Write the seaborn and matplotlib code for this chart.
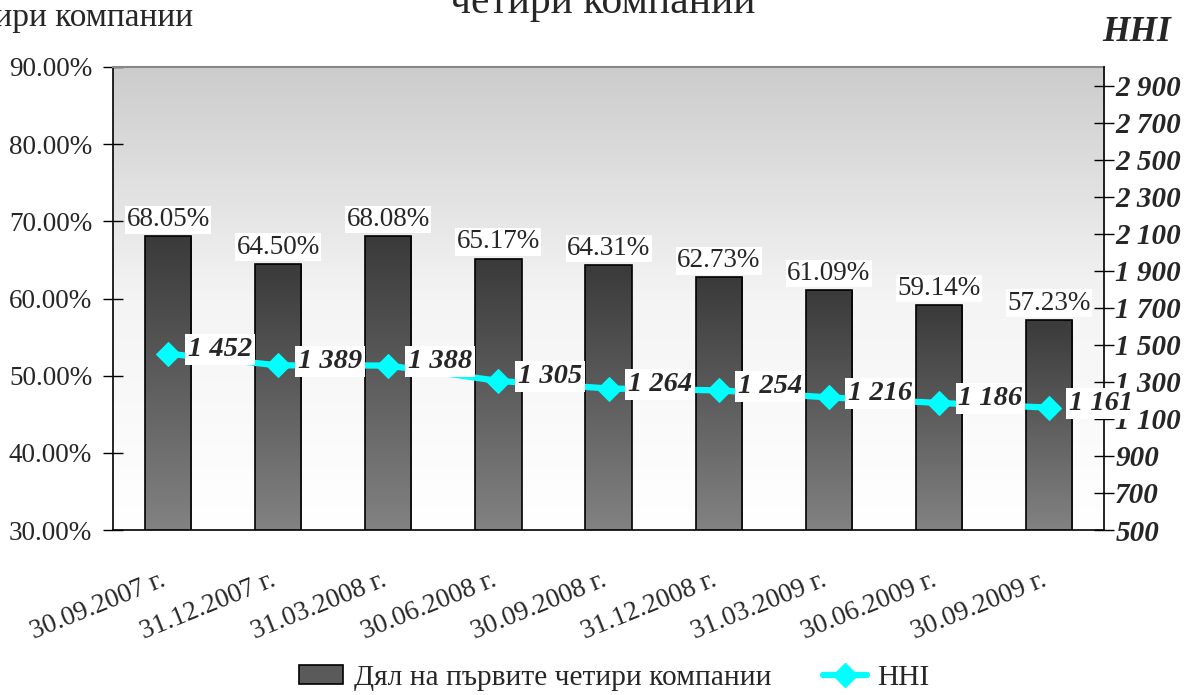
import numpy as np
import pandas as pd
import matplotlib
matplotlib.use("Agg")
import matplotlib.pyplot as plt
import matplotlib.transforms as mtransforms
import seaborn as sns
from matplotlib.patches import Patch
from matplotlib.lines import Line2D
from matplotlib.ticker import FuncFormatter, FixedLocator

dates = ["30.09.2007 г.", "31.12.2007 г.", "31.03.2008 г.", "30.06.2008 г.",
         "30.09.2008 г.", "31.12.2008 г.", "31.03.2009 г.", "30.06.2009 г.",
         "30.09.2009 г."]
share = [68.05, 64.50, 68.08, 65.17, 64.31, 62.73, 61.09, 59.14, 57.23]
hhi = [1452, 1389, 1388, 1305, 1264, 1254, 1216, 1186, 1161]
share_name = "Дял на първите четири компании"
hhi_name = "HHI"

sns.set_style("white")
plt.rcParams['font.family'] = ['Liberation Serif', 'DejaVu Serif']

df = pd.DataFrame({"date": dates, "share": share, "hhi": hhi})

fig = plt.figure(figsize=(11.86, 6.95), dpi=100)
ax = fig.add_axes([0.0953, 0.2374, 0.931 - 0.0953, 0.9036 - 0.2374])

# background gradient
grad = np.linspace(0, 1, 256).reshape(-1, 1)
bg_cmap = matplotlib.colors.LinearSegmentedColormap.from_list("bg", ["#ffffff", "#f4f4f4", "#cccccc"])
ax.imshow(grad, extent=[0, 1, 0, 1], transform=ax.transAxes, cmap=bg_cmap,
          aspect="auto", origin="lower", zorder=0)

sns.barplot(data=df, x="date", y="share", ax=ax, width=0.42, color="#555555",
            edgecolor="black", linewidth=1.2, zorder=2)
ax.set_ylim(30, 90)
ax.set_xlim(-0.5, len(dates) - 0.5)

bar_cmap = matplotlib.colors.LinearSegmentedColormap.from_list("bar", ["#828282", "#3a3a3a"])
for p in ax.patches:
    x0 = p.get_x()
    w, h = p.get_width(), p.get_height()
    top = p.get_y() + h
    im = ax.imshow(grad, extent=[x0, x0 + w, 30, top], cmap=bar_cmap,
                   aspect="auto", origin="lower", zorder=2)
    im.set_clip_path(p)
    p.set_facecolor("none")
    p.set_zorder(3)

for i, v in enumerate(share):
    ax.annotate(f"{v:.2f}%", (i, v), xytext=(0, 3), textcoords="offset points",
                ha="center", va="bottom", fontsize=19.5, zorder=5,
                bbox=dict(boxstyle="square,pad=0.05", fc="white", ec="none"))

ax.yaxis.set_major_locator(FixedLocator(np.arange(30, 91, 10)))
ax.yaxis.set_major_formatter(FuncFormatter(lambda v, p: f"{v:.2f}%"))
ax.set_xticks(np.arange(-0.5, len(dates), 1.0), minor=False)
ax.set_xticklabels([])
ax.set_xticks(np.arange(len(dates)), minor=True)
ax.set_xticklabels(dates, minor=True, rotation=22, ha="right",
                   rotation_mode="anchor", fontsize=19.5)
ax.tick_params(axis="x", which="minor", length=0, pad=27)
shift = mtransforms.ScaledTranslation(-8 / 100, 0, fig.dpi_scale_trans)
for lab in ax.xaxis.get_minorticklabels():
    lab.set_transform(lab.get_transform() + shift)
ax.tick_params(axis="x", which="major", direction="inout", length=16, width=1, color="black")
ax.tick_params(axis="y", direction="inout", length=14, width=1, color="black",
               labelsize=19.5, pad=8)
ax.set_xlabel("")
ax.set_ylabel("")
for s in ["left", "bottom"]:
    ax.spines[s].set_color("black")
    ax.spines[s].set_linewidth(1.2)
ax.spines["top"].set_color("#888888")
ax.spines["top"].set_linewidth(1.5)
ax.spines["right"].set_visible(False)

ax2 = ax.twinx()
sns.lineplot(data=df, x="date", y="hhi", ax=ax2, color="#00ffff", linewidth=4.5,
             marker="D", markersize=12, markeredgecolor="#00ffff", zorder=4)
ax2.set_ylim(500, 3000)
ax2.yaxis.set_major_locator(FixedLocator(np.arange(500, 3000, 200)))
ax2.yaxis.set_major_formatter(FuncFormatter(lambda v, p: f"{int(v):,}".replace(",", " ")))
for t in ax2.get_yticklabels():
    t.set_fontweight("bold")
    t.set_fontstyle("italic")
ax2.tick_params(axis="y", direction="inout", length=14, width=1, color="black",
                labelsize=21, pad=1)
ax2.set_xlabel("")
ax2.set_ylabel("")
for s in ["left", "top", "bottom"]:
    ax2.spines[s].set_visible(False)
ax2.spines["right"].set_color("black")
ax2.spines["right"].set_linewidth(1.2)

for i, v in enumerate(hhi):
    ax2.annotate(f"{v:,}".replace(",", " "), (i, v), xytext=(14, 3),
                 textcoords="offset points", ha="left", va="center",
                 fontsize=20.5, fontweight="bold", fontstyle="italic", zorder=6,
                 bbox=dict(boxstyle="square,pad=0.1", fc="white", ec="none"))

fig.text(0.508, 0.981, "четири компании", ha="center", va="baseline", fontsize=30)
fig.text(0.163, 0.962, share_name, ha="right", va="baseline", fontsize=24)
fig.text(0.958, 0.953, "HHI", ha="center", va="center", fontsize=25.5,
         fontweight="bold", fontstyle="italic")

handles = [Patch(facecolor="#5a5a5a", edgecolor="black", linewidth=1.2),
           Line2D([0], [0], color="#00ffff", lw=4.5, marker="D", markersize=12)]
fig.legend(handles, [share_name, hhi_name], loc="center", ncol=2,
           bbox_to_anchor=(0.518, 0.025), frameon=False, fontsize=21.2,
           handlelength=1.5, handleheight=0.6, columnspacing=1.75, handletextpad=0.35)

fig.savefig("out.png", dpi=100)
